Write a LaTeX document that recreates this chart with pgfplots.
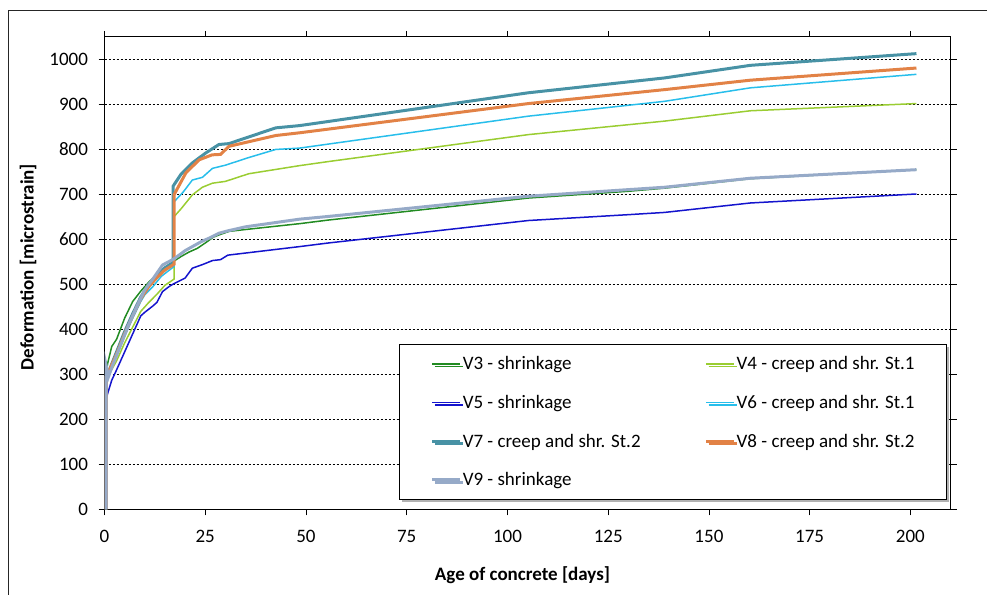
\documentclass[border=0pt]{standalone}
\usepackage{pgfplots}
\pgfplotsset{compat=1.18}
\usepackage{fontspec}
\setmainfont{Carlito}
\usetikzlibrary{shadows}
\definecolor{cV3}{RGB}{34,139,34}
\definecolor{cV4}{RGB}{154,205,50}
\definecolor{cV5}{RGB}{20,20,205}
\definecolor{cV6}{RGB}{40,190,235}
\definecolor{cV7}{RGB}{72,146,165}
\definecolor{cV8}{RGB}{226,130,70}
\definecolor{cV9}{RGB}{150,170,200}
\begin{document}
\begin{tikzpicture}[x=1pt,y=1pt]
\draw[line width=1.3pt, black!85] (8.3,-5) -- (8.3,583.3) -- (995,583.3);
\begin{axis}[
  at={(104.5pt,84.7pt)}, anchor=south west,
  scale only axis, width=846.2pt, height=472.3pt,
  xmin=0, xmax=210, ymin=0, ymax=1050,
  xtick={0,25,...,200}, ytick={0,100,...,1000},
  tick align=outside, major tick length=6pt,
  tick style={black, line width=0.8pt},
  ymajorgrids, major grid style={black, line width=0.7pt, dash pattern=on 2.5pt off 1.5pt},
  axis line style={black, line width=1pt},
  ticklabel style={font=\fontsize{19}{22}\selectfont},
  yticklabel style={xshift=-7pt},
  xticklabel style={yshift=-11pt},
  /pgf/number format/assume math mode=true,
  /pgf/number format/1000 sep={},
  xlabel={Age of concrete [days]}, ylabel={Deformation [microstrain]},
  label style={font=\fontsize{19}{22}\selectfont\bfseries},
  xlabel style={at={(axis description cs:0.494,-0.139)}, anchor=center},
  ylabel style={at={(axis description cs:-0.0904,0.513)}, anchor=center},
  legend columns=2,
  legend cell align=left,
  legend image code/.code={\draw[#1] (0pt,0pt) -- (28pt,0pt);},
  legend style={at={(0.3485,0.350)}, anchor=north west, draw=black, line width=0.7pt,
    fill=white, inner xsep=31pt, inner ysep=9.5pt, row sep=18.7pt,
    font=\fontsize{19}{22}\selectfont,
    drop shadow={shadow xshift=2.5pt, shadow yshift=-2.5pt, fill=gray!60, opacity=1},
    nodes={inner xsep=1pt, inner ysep=0pt, text height=16pt, text depth=4pt},
    /tikz/every even column/.append style={column sep=63pt}},
]
\addplot[cV3, line width=1.5pt] coordinates {(0.4,0)(0.4,300)(0.8,325)(1.8,362)(3,378)(5,425)(7,462)(9,485)(11,505)(13,522)(15,538)(17.3,552)(19,562)(21,572)(23,580)(25,592)(27,605)(29,612)(31,618)(35,622)(48.4,635)(55.5,643)(105.2,692)(130,707)(139,714)(160.3,735)(201.5,755)};
\addlegendentry{V3 - shrinkage}
\addplot[cV4, line width=1.5pt] coordinates {(0.4,0)(0.4,280)(1,298)(3,330)(5,370)(7,405)(9,440)(11,460)(13,478)(15,498)(17.3,512)(17.3,651)(19,668)(21.8,699)(24.3,716)(26.8,725)(30,729)(35.8,746)(48.4,764)(55.5,773)(105.2,833)(139,863)(160.3,886)(201.5,902)};
\addlegendentry{V4 - creep and shr. St.1}
\addplot[cV5, line width=1.5pt] coordinates {(0.4,0)(0.4,245)(0.8,258)(1.8,287)(3,310)(5,350)(7,390)(9,430)(10,438)(12,452)(13,460)(14.4,484)(16,495)(17.3,502)(20,514)(21.8,536)(24.3,544)(26.8,553)(28.8,555)(30.6,565)(48.4,584)(55.5,592)(105.2,642)(130,655)(139,660)(160.3,681)(201.5,701)};
\addlegendentry{V5 - shrinkage}
\addplot[cV6, line width=1.5pt] coordinates {(0.4,0)(0.4,285)(1,300)(3,340)(5,385)(7,425)(9,462)(10,477)(12,495)(14.1,518)(17.3,540)(17.3,684)(19.5,705)(21.8,732)(24.3,738)(26.8,758)(30,765)(35.8,782)(42.5,800)(48.4,803)(105.2,874)(139,907)(160.3,937)(201.5,967)};
\addlegendentry{V6 - creep and shr. St.1}
\addplot[cV7, line width=3pt] coordinates {(0.4,0)(0.4,295)(1,305)(3,350)(5,395)(7,435)(9,472)(11,500)(13,520)(15,537)(17,548)(17,718)(19,745)(21.8,770)(25.1,792)(28.4,811)(30.9,813)(42.5,848)(48.4,853)(105.2,926)(139,959)(160.3,987)(201.5,1013)};
\addlegendentry{V7 - creep and shr. St.2}
\addplot[cV8, line width=3pt] coordinates {(0.4,0)(0.4,295)(1,305)(3,345)(5,390)(7,430)(9,468)(11,495)(13,515)(15,532)(17.3,545)(17.3,700)(20.2,748)(23.5,777)(26.7,788)(28.8,789)(30.9,807)(42.5,831)(48.4,837)(105.2,902)(139,933)(160.3,954)(201.5,981)};
\addlegendentry{V8 - creep and shr. St.2}
\addplot[cV9, line width=3pt] coordinates {(0.4,0)(0.4,320)(1,295)(2,320)(4,365)(6,410)(8,450)(10,488)(12,512)(14.4,543)(17.3,557)(20,575)(21.8,584)(24,595)(26,603)(28.5,614)(30.6,619)(35,628)(48.4,645)(55.5,651)(105.2,696)(139,716)(160.3,736)(201.5,755)};
\addlegendentry{V9 - shrinkage}
\end{axis}
\pgfresetboundingbox
\useasboundingbox (0,0) rectangle (987,594);
\end{tikzpicture}
\end{document}
